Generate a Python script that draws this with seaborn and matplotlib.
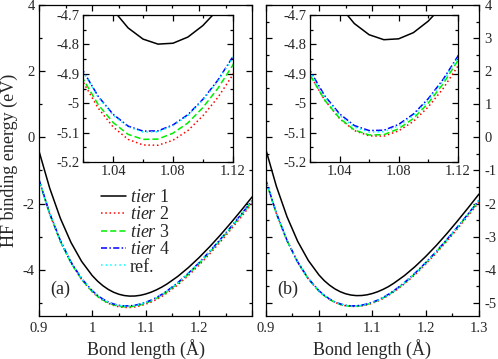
import numpy as np
import pandas as pd
import matplotlib
matplotlib.use('Agg')
import matplotlib.pyplot as plt
import seaborn as sns
from matplotlib.ticker import FixedLocator, FuncFormatter

# bond length grid (Angstrom)
bond_length = [0.90, 0.92, 0.94, 0.96, 0.98, 1.00, 1.01, 1.02, 1.03, 1.04,
               1.05, 1.06, 1.07, 1.08, 1.09, 1.10, 1.11, 1.12, 1.13, 1.14,
               1.16, 1.18, 1.20, 1.22, 1.24, 1.26, 1.28, 1.30]

# reference curve (same in both panels)
ref_energy = [-1.279, -2.295, -3.118, -3.771, -4.274, -4.642, -4.782, -4.894, -4.980, -5.041,
              -5.081, -5.098, -5.097, -5.077, -5.042, -4.990, -4.925, -4.846, -4.752, -4.645,
              -4.398, -4.112, -3.795, -3.452, -3.088, -2.707, -2.312, -1.907]

# panel (a)
tier1_a = [-0.416, -1.532, -2.445, -3.178, -3.751, -4.182, -4.349, -4.487, -4.598, -4.683,
           -4.744, -4.782, -4.799, -4.796, -4.775, -4.736, -4.682, -4.612, -4.529, -4.433,
           -4.207, -3.939, -3.638, -3.308, -2.955, -2.582, -2.194, -1.795]
tier2_a = [-1.289, -2.310, -3.138, -3.795, -4.301, -4.673, -4.815, -4.929, -5.017, -5.081,
           -5.123, -5.142, -5.143, -5.126, -5.093, -5.043, -4.981, -4.904, -4.812, -4.707,
           -4.463, -4.180, -3.865, -3.524, -3.162, -2.783, -2.390, -1.987]
tier3_a = [-1.304, -2.320, -3.143, -3.796, -4.299, -4.667, -4.807, -4.919, -5.005, -5.066,
           -5.106, -5.123, -5.122, -5.102, -5.067, -5.015, -4.950, -4.871, -4.777, -4.670,
           -4.423, -4.137, -3.820, -3.477, -3.113, -2.732, -2.337, -1.932]
tier4_a = [-1.276, -2.292, -3.115, -3.768, -4.271, -4.639, -4.779, -4.891, -4.977, -5.038,
           -5.078, -5.095, -5.094, -5.074, -5.039, -4.987, -4.922, -4.843, -4.749, -4.642,
           -4.395, -4.109, -3.792, -3.449, -3.085, -2.704, -2.309, -1.904]

# panel (b)
tier1_b = [-0.351, -1.477, -2.400, -3.143, -3.723, -4.162, -4.334, -4.472, -4.583, -4.668,
           -4.729, -4.767, -4.784, -4.781, -4.760, -4.721, -4.667, -4.597, -4.514, -4.413,
           -4.182, -3.909, -3.603, -3.268, -2.905, -2.522, -2.124, -1.715]
tier2_b = [-1.285, -2.301, -3.125, -3.778, -4.282, -4.650, -4.790, -4.903, -4.990, -5.052,
           -5.093, -5.111, -5.112, -5.094, -5.062, -5.013, -4.951, -4.875, -4.783, -4.678,
           -4.434, -4.151, -3.837, -3.497, -3.136, -2.757, -2.364, -1.961]
tier3_b = [-1.289, -2.305, -3.128, -3.781, -4.284, -4.652, -4.792, -4.904, -4.990, -5.051,
           -5.091, -5.108, -5.107, -5.087, -5.052, -5.000, -4.935, -4.856, -4.762, -4.655,
           -4.408, -4.122, -3.805, -3.462, -3.098, -2.717, -2.322, -1.917]
tier4_b = [-1.274, -2.290, -3.113, -3.766, -4.269, -4.637, -4.777, -4.889, -4.975, -5.036,
           -5.076, -5.093, -5.092, -5.072, -5.037, -4.985, -4.920, -4.841, -4.747, -4.640,
           -4.393, -4.107, -3.790, -3.447, -3.083, -2.702, -2.307, -1.902]

labels = [r'$\mathit{tier}$ 1', r'$\mathit{tier}$ 2', r'$\mathit{tier}$ 3', r'$\mathit{tier}$ 4', 'ref.']
colors = ['black', '#ff0000', '#00ee00', '#0000ff', '#00ffff']
styles = ['-', (0, (1, 1.8)), (0, (4, 2)), (0, (4, 1.5, 1, 1.5)), (0, (1, 2))]

sns.set_theme(style='ticks')
plt.rcParams['font.family'] = ['Liberation Serif', 'DejaVu Serif']
plt.rcParams['mathtext.fontset'] = 'custom'
plt.rcParams['mathtext.rm'] = 'Liberation Serif'
plt.rcParams['mathtext.it'] = 'Liberation Serif:italic'

fmt = FuncFormatter(lambda v, p: '%g' % round(v, 4))


def draw_curves(ax, series, with_labels=False):
    for i, ys in enumerate(series):
        df = pd.DataFrame({'r': bond_length, 'E': ys})
        sns.lineplot(data=df, x='r', y='E', ax=ax, color=colors[i], linestyle=styles[i],
                     linewidth=1.1, label=labels[i] if with_labels else None,
                     legend=False, sort=False)
    ax.set_xlabel('')
    ax.set_ylabel('')


def style_ax(ax, size=10.5):
    ax.tick_params(which='both', direction='in', top=True, right=True, labelsize=size,
                   width=0.9, color='black')
    ax.tick_params(which='major', length=4.5)
    ax.tick_params(which='minor', length=2.5)
    for s in ax.spines.values():
        s.set_linewidth(0.9)
        s.set_color('black')


fig = plt.figure(figsize=(4.98, 3.59), dpi=100)
ax_a = fig.add_axes([0.0783, 0.1198, 0.4283, 0.8663])
ax_b = fig.add_axes([0.5335, 0.1198, 0.4283, 0.8663])
in_a = fig.add_axes([0.1673, 0.5487, 0.300, 0.4095])
in_b = fig.add_axes([0.6225, 0.5487, 0.2966, 0.4095])

series_a = [tier1_a, tier2_a, tier3_a, tier4_a, ref_energy]
series_b = [tier1_b, tier2_b, tier3_b, tier4_b, ref_energy]

draw_curves(ax_a, series_a, with_labels=True)
draw_curves(ax_b, series_b)
draw_curves(in_a, series_a)
draw_curves(in_b, series_b)

for ax in (ax_a, ax_b):
    style_ax(ax)
    ax.set_xlim(0.9, 1.3)
    ax.set_ylim(-5.4, 4.0)
    ax.xaxis.set_major_locator(FixedLocator([0.9, 1.0, 1.1, 1.2, 1.3]))
    ax.xaxis.set_minor_locator(FixedLocator([0.95, 1.05, 1.15, 1.25]))
    ax.set_xlabel('Bond length (Å)', fontsize=13, labelpad=3)
    ax.tick_params(axis='x', pad=4)

ax_a.xaxis.set_major_formatter(FuncFormatter(lambda v, p: '' if v > 1.25 else '%g' % round(v, 3)))
ax_a.yaxis.set_major_locator(FixedLocator([-4, -2, 0, 2, 4]))
ax_a.yaxis.set_minor_locator(FixedLocator([-5, -3, -1, 1, 3]))
ax_a.yaxis.set_major_formatter(fmt)
ax_a.tick_params(axis='y', pad=3)
ax_a.set_ylabel('HF binding energy (eV)', fontsize=13)
ax_a.yaxis.set_label_coords(-0.1, 0.5)

ax_b.xaxis.set_major_formatter(fmt)
ax_b.yaxis.set_major_locator(FixedLocator(list(range(-5, 5))))
ax_b.yaxis.set_minor_locator(FixedLocator([-4.5, -3.5, -2.5, -1.5, -0.5, 0.5, 1.5, 2.5, 3.5]))
ax_b.yaxis.set_major_formatter(fmt)
ax_b.tick_params(axis='y', labelleft=False, labelright=True, pad=4)

for ax in (in_a, in_b):
    ax.set_facecolor('white')
    style_ax(ax)
    ax.set_xlim(1.02, 1.12)
    ax.set_ylim(-5.2, -4.7)
    ax.xaxis.set_major_locator(FixedLocator([1.04, 1.08, 1.12]))
    ax.xaxis.set_minor_locator(FixedLocator([1.02, 1.06, 1.10]))
    ax.yaxis.set_major_locator(FixedLocator([-5.2, -5.1, -5.0, -4.9, -4.8, -4.7]))
    ax.yaxis.set_minor_locator(FixedLocator([-5.15, -5.05, -4.95, -4.85, -4.75]))
    ax.xaxis.set_major_formatter(fmt)
    ax.yaxis.set_major_formatter(fmt)
    ax.tick_params(axis='x', pad=2.5)
    ax.tick_params(axis='y', pad=2.5)

ax_a.legend(loc='upper left', bbox_to_anchor=(0.289, 0.408), frameon=False, fontsize=13,
            handlelength=1.4, handletextpad=0.2, labelspacing=0.02, borderpad=0,
            borderaxespad=0)

ax_a.text(0.055, 0.07, '(a)', transform=ax_a.transAxes, fontsize=13)
ax_b.text(0.055, 0.07, '(b)', transform=ax_b.transAxes, fontsize=13)

fig.savefig('out.png', dpi=100)
